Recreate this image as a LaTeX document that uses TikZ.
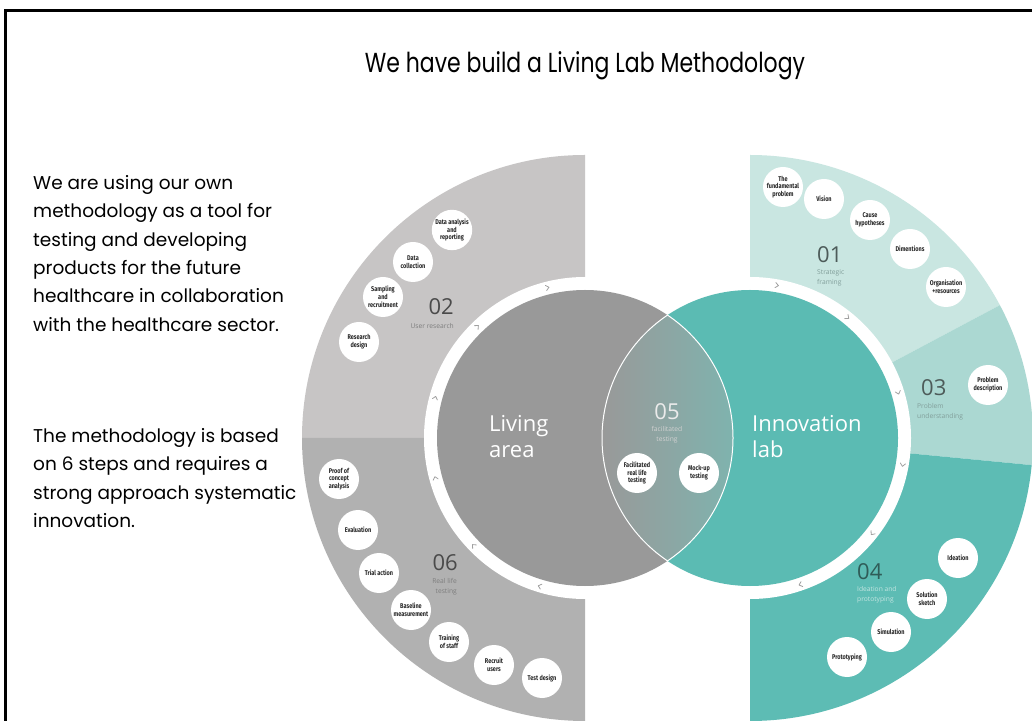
\documentclass[tikz,border=0pt]{standalone}
\usepackage{fontspec}
\usetikzlibrary{calc}
\setmainfont{Poppins}
\newfontfamily\titlefont[FakeStretch=0.8]{Poppins}
\newfontfamily\labfont{Open Sans}
\newfontfamily\bubfont[FakeStretch=0.8]{Fira Sans}
\definecolor{grayA}{HTML}{C7C5C5}
\definecolor{grayB}{HTML}{B1B1B1}
\definecolor{grayC}{HTML}{999999}
\definecolor{tealA}{HTML}{C9E6E1}
\definecolor{tealB}{HTML}{ABD8D2}
\definecolor{tealC}{HTML}{5DBCB4}
\definecolor{tealD}{HTML}{5BBBB3}
\definecolor{lensR}{HTML}{7FB3AE}
\definecolor{numgray}{HTML}{4A4A4A}
\definecolor{subgray}{HTML}{7E7E7E}
\definecolor{numteal}{HTML}{4D5B59}
\definecolor{subteal}{HTML}{829F9B}
\definecolor{numdark}{HTML}{2F5C58}
\definecolor{sublight}{HTML}{C3E5E1}
\definecolor{chev}{HTML}{A0A0A0}
\tikzset{
  bub/.style={circle, fill=white, minimum size=40pt, inner sep=0pt, align=center,
    font=\bubfont\bfseries\fontsize{6.9}{7.8}\selectfont, text=black!85},
  num/.style={font=\labfont\fontsize{22}{22}\selectfont, inner sep=0pt},
  sub/.style={font=\labfont\fontsize{6.7}{10.5}\selectfont, inner sep=0pt},
  big/.style={font=\labfont\fontsize{22}{26}\selectfont, text=white, inner sep=0pt, align=left},
  para/.style={anchor=north west, align=left, inner sep=0pt, font=\fontsize{18.5}{28.4}\selectfont},
  chevron/.style={draw=chev, line width=0.8pt, line cap=round, line join=round}
}
\begin{document}
\begin{tikzpicture}[x=1pt,y=1pt]
\useasboundingbox (0,0) rectangle (1032,720);
\fill[white] (0,0) rectangle (1032,720);
% frame
\draw[line width=2.5pt] (1040,709.7) -- (5.3,709.7) -- (5.3,-10);
% centres
\coordinate (CL) at (585,282);
\coordinate (CR) at (750,282);
% outer sectors
\fill[grayA] (CL) -- ++(0,283) arc[start angle=90,end angle=180,radius=283] -- cycle;
\fill[grayB] (CL) -- ++(-283,0) arc[start angle=180,end angle=270,radius=283] -- cycle;
\fill[tealA] (CR) -- ++(0,283) arc[start angle=90,end angle=28,radius=283] -- cycle;
\fill[tealB] (CR) -- ++(28:283) arc[start angle=28,end angle=-5.5,radius=283] -- cycle;
\fill[tealC] (CR) -- ++(-5.5:283) arc[start angle=-5.5,end angle=-90,radius=283] -- cycle;
% white rings
\fill[white] (CL) circle (161);
\fill[white] (CR) circle (161);
% inner circles
\fill[grayC] (CL) circle (148);
\fill[tealD] (CR) circle (148);
\begin{scope}
  \clip (CL) circle (148);
  \clip (CR) circle (148);
  \shade[left color=grayC, right color=lensR] (602,130) rectangle (733,434);
\end{scope}
\begin{scope}
  \clip (CL) circle (148);
  \draw[white, line width=1pt] (CR) circle (148);
\end{scope}
\begin{scope}
  \clip (CR) circle (148);
  \draw[white, line width=1pt] (CL) circle (148);
\end{scope}
% chevrons
\foreach \a in {104,134,165,195,224,253}{
  \draw[chevron, shift={($(CL)+(\a:155)$)}, rotate=\a-90] (-1.5,2.6) -- (1.5,0) -- (-1.5,-2.6);
}
\foreach \a in {80,51,17,-10,-38,-71}{
  \draw[chevron, shift={($(CR)+(\a:155)$)}, rotate=\a-90] (-1.5,2.6) -- (1.5,0) -- (-1.5,-2.6);
}
% title
\node[font=\titlefont\fontsize{27.5}{27.5}\selectfont, inner sep=0pt] (title) at (585,654) {We have build a Living Lab Methodology};
% left paragraphs
\node[para] (para1) at (33,545)
 {We are using our own\\
  methodology as a tool for\\
  testing and developing\\
  products for the future\\
  healthcare in collaboration\\
  with the healthcare sector.};
\node[para] (para2) at (33,292)
 {The methodology is based\\
  on 6 steps and requires a\\
  strong approach systematic\\
  innovation.};
% 02 user research
\node[bub] (b21) at (452,490) {Data analysis\\and\\reporting};
\node[bub] (b22) at (413,458) {Data\\collection};
\node[bub] (b23) at (383,423) {Sampling\\and\\recruitment};
\node[bub] (b24) at (359,378) {Research\\design};
\node[num, text=numgray, anchor=east] (n02) at (454,413) {02};
\node[sub, text=subgray, anchor=east] (s02) at (454,394) {User research};
% 06 real life testing
\node[bub] (b61) at (339,241) {Proof of\\concept\\analysis};
\node[bub] (b62) at (358,190) {Evaluation};
\node[bub] (b63) at (379,147) {Trial action};
\node[bub] (b64) at (411,110) {Baseline\\measurement};
\node[bub] (b65) at (449,78) {Training\\of staff};
\node[bub] (b66) at (494,55) {Recruit\\users};
\node[bub] (b67) at (542,42) {Test design};
\node[num, text=numgray, anchor=east] (n06) at (458,157) {06};
\node[sub, text=subgray, anchor=north east, align=right] (s06) at (457,142) {Real life\\testing};
% 01 strategic framing
\node[bub] (b11) at (783,533) {The\\fundamental\\problem};
\node[bub] (b12) at (824,521) {Vision};
\node[bub] (b13) at (870,500) {Cause\\hypotheses};
\node[bub] (b14) at (910,471) {Dimentions};
\node[bub] (b15) at (946,433) {Organisation\\+resources};
\node[num, text=numteal, anchor=west] (n01) at (817,465) {01};
\node[sub, text=subteal, anchor=north west, align=left] (s01) at (817,451) {Strategic\\framing};
% 03 problem understanding
\node[bub] (b31) at (988,335) {Problem\\description};
\node[num, text=numteal, anchor=west] (n03) at (921,332) {03};
\node[sub, text=subteal, anchor=north west, align=left] (s03) at (917,317) {Problem\\understanding};
% 04 ideation and prototyping
\node[bub] (b41) at (958,162) {Ideation};
\node[bub] (b42) at (927,121) {Solution\\sketch};
\node[bub] (b43) at (891,88) {Simulation};
\node[bub] (b44) at (847,63) {Prototyping};
\node[num, text=numdark, anchor=west] (n04) at (857,148) {04};
\node[sub, text=sublight, anchor=north west, align=left] (s04) at (857,134) {Ideation and\\prototyping};
% centre
\node[big, anchor=north west] (living) at (489,305) {Living\\area};
\node[big, anchor=north west] (innov) at (752,305) {Innovation\\lab};
\node[num, text=white!92!black] (n05) at (667,308) {05};
\node[sub, text=white!82!black, anchor=north, align=center] (s05) at (667,294) {facilitated\\testing};
\node[bub] (b51) at (637,247) {Facilitated\\real life\\testing};
\node[bub] (b52) at (699,247) {Mock-up\\testing};
\end{tikzpicture}
\end{document}
